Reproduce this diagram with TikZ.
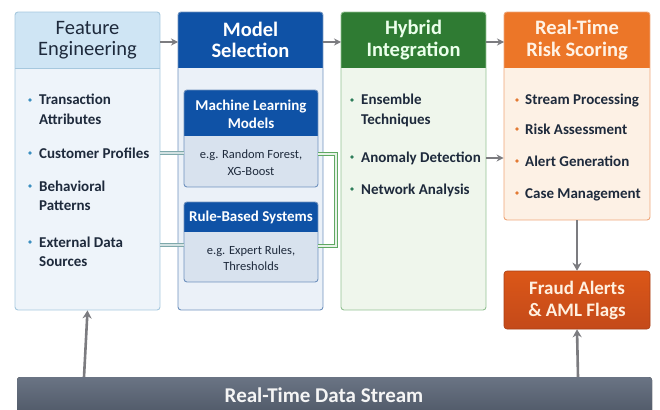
\documentclass[tikz,border=0pt]{standalone}
\usepackage{fontspec}
\setmainfont{Carlito}
\usetikzlibrary{arrows.meta}
\definecolor{feHead}{HTML}{CFE5F4}
\definecolor{feBody}{HTML}{EEF4FA}
\definecolor{feLine}{HTML}{A6C8DE}
\definecolor{msHead}{HTML}{0F52A6}
\definecolor{msBody}{HTML}{EBF1F8}
\definecolor{msLine}{HTML}{6F92BE}
\definecolor{mlBody}{HTML}{D8E2EE}
\definecolor{hiHead}{HTML}{2F7B33}
\definecolor{hiBody}{HTML}{EFF6EC}
\definecolor{hiLine}{HTML}{93C293}
\definecolor{rtHead}{HTML}{EC7628}
\definecolor{rtBody}{HTML}{FDF1E5}
\definecolor{rtLine}{HTML}{EFA678}
\definecolor{frFill}{HTML}{D5501C}
\definecolor{dsTop}{HTML}{6A7484}
\definecolor{dsBot}{HTML}{4C5564}
\definecolor{arrowGray}{HTML}{7C7C80}
\definecolor{darkText}{HTML}{1E2A3C}
\definecolor{feBullet}{HTML}{3C8FC0}
\definecolor{hiBullet}{HTML}{2E7D5A}
\definecolor{rtBullet}{HTML}{E37A34}
\definecolor{tealLink}{HTML}{7FA9AB}
\definecolor{greenLink}{HTML}{5FA862}
\newcommand{\twol}[2]{\begin{tabular}[t]{@{}l@{}}#1\\#2\end{tabular}}
\tikzset{
  panel/.style={draw=#1, line width=0.9pt, rounded corners=3pt},
  hdrtext/.style={font=\fontsize{20.5}{21.5}\selectfont\bfseries, align=center},
  item/.style={font=\fontsize{15}{19}\selectfont\bfseries, text=darkText, anchor=base west, align=left, inner sep=0pt},
  subhdr/.style={font=\fontsize{15}{18}\selectfont\bfseries, text=white, align=center},
  subbody/.style={font=\fontsize{12.5}{16.5}\selectfont, text=darkText, align=center},
  dot/.style={circle, fill=#1, inner sep=0pt, minimum size=3.6pt},
  flow/.style={draw=arrowGray, line width=2pt, -{Stealth[length=7pt,width=7pt]}},
  bigflow/.style={draw=arrowGray, line width=2.6pt, -{Stealth[length=8pt,width=9pt]}},
  tlink/.style={draw=tealLink, line width=1pt, double=tealLink!35, double distance=1.6pt},
  glink/.style={draw=greenLink, line width=0.9pt, double=greenLink!15, double distance=1.4pt},
}
\begin{document}
\begin{tikzpicture}[x=1pt,y=-1pt]
\useasboundingbox (0,0) rectangle (660,409);
\fill[white] (0,0) rectangle (660,409);

% ---------- Feature Engineering ----------
\begin{scope}
\clip[rounded corners=3pt] (15,12) rectangle (160,310);
\fill[feBody] (15,12) rectangle (160,310);
\fill[feHead] (15,12) rectangle (160,68);
\end{scope}
\draw[feLine, line width=0.9pt] (15,68) -- (160,68);
\node[panel=feLine, minimum width=145pt, minimum height=298pt] (fe) at (87.5,161) {};
\node[hdrtext, font=\fontsize{20.5}{21.5}\selectfont, text=darkText] (feh) at (87.5,40) {Feature\\Engineering};
\node[dot=feBullet] (feb1) at (30,100) {};
\node[item] (fe1) at (39,105) {\twol{Transaction}{Attributes}};
\node[dot=feBullet] (feb2) at (30,153) {};
\node[item] (fe2) at (39,158) {Customer Profiles};
\node[dot=feBullet] (feb3) at (30,186) {};
\node[item] (fe3) at (39,191) {\twol{Behavioral}{Patterns}};
\node[dot=feBullet] (feb4) at (30,242) {};
\node[item] (fe4) at (39,247) {\twol{External Data}{Sources}};

% ---------- Model Selection ----------
\begin{scope}
\clip[rounded corners=3pt] (178,12) rectangle (323,310);
\fill[msBody] (178,12) rectangle (323,310);
\fill[msHead] (178,12) rectangle (323,68);
\end{scope}
\node[panel=msLine, minimum width=145pt, minimum height=298pt] (ms) at (250.5,161) {};
\node[hdrtext, text=white] (msh) at (250.5,40) {Model\\Selection};

% ML models inner box
\begin{scope}
\clip[rounded corners=3pt] (184,90) rectangle (318,187);
\fill[mlBody] (184,90) rectangle (318,187);
\fill[msHead] (184,90) rectangle (318,136);
\end{scope}
\node[panel=msLine, minimum width=134pt, minimum height=97pt] (ml) at (251,138.5) {};
\node[subhdr] (mlh) at (251,114) {Machine Learning\\Models};
\node[subbody] (mlb) at (251,162.5) {e.g. Random Forest,\\XG-Boost};

% Rule-based inner box
\begin{scope}
\clip[rounded corners=3pt] (184,202) rectangle (318,282);
\fill[mlBody] (184,202) rectangle (318,282);
\fill[msHead] (184,202) rectangle (318,232);
\end{scope}
\node[panel=msLine, minimum width=134pt, minimum height=80pt] (rb) at (251,242) {};
\node[subhdr] (rbh) at (251,217) {Rule-Based Systems};
\node[subbody] (rbb) at (251,258) {e.g. Expert Rules,\\Thresholds};

% ---------- Hybrid Integration ----------
\begin{scope}
\clip[rounded corners=3pt] (341,12) rectangle (486,310);
\fill[hiBody] (341,12) rectangle (486,310);
\fill[hiHead] (341,12) rectangle (486,68);
\end{scope}
\node[panel=hiLine, minimum width=145pt, minimum height=298pt] (hi) at (413.5,161) {};
\node[hdrtext, text=green!8!white] (hih) at (413.5,40) {Hybrid\\Integration};
\node[dot=hiBullet] (hib1) at (352,100) {};
\node[item] (hi1) at (361,105) {\twol{Ensemble}{Techniques}};
\node[dot=hiBullet] (hib2) at (352,157) {};
\node[item] (hi2) at (361,162) {Anomaly Detection};
\node[dot=hiBullet] (hib3) at (352,189) {};
\node[item] (hi3) at (361,194) {Network Analysis};

% ---------- Real-Time Risk Scoring ----------
\begin{scope}
\clip[rounded corners=3pt] (504,12) rectangle (650,220);
\fill[rtBody] (504,12) rectangle (650,220);
\fill[rtHead] (504,12) rectangle (650,68);
\end{scope}
\node[panel=rtLine, minimum width=146pt, minimum height=208pt] (rt) at (577,116) {};
\node[hdrtext, text=orange!10!white] (rth) at (577,40) {Real-Time\\Risk Scoring};
\node[dot=rtBullet] (rtb1) at (517,100) {};
\node[item] (rt1) at (525,105) {Stream Processing};
\node[dot=rtBullet] (rtb2) at (517,129) {};
\node[item] (rt2) at (525,134) {Risk Assessment};
\node[dot=rtBullet] (rtb3) at (517,161) {};
\node[item] (rt3) at (525,166) {Alert Generation};
\node[dot=rtBullet] (rtb4) at (517,193) {};
\node[item] (rt4) at (525,198) {Case Management};

% ---------- Fraud Alerts ----------
\node[draw=frFill!80!black, line width=0.6pt, rounded corners=3pt, top color=frFill!85!orange, bottom color=frFill!92!black,
      minimum width=146pt, minimum height=58pt, text=orange!12!white,
      font=\fontsize{19}{22}\selectfont\bfseries, align=center] (fr) at (577,300) {Fraud Alerts\\\& AML Flags};

% ---------- Data Stream ----------
\fill[top color=dsTop, bottom color=dsBot, rounded corners=3pt] (17,377) rectangle (652,420);
\node[font=\fontsize{21}{24}\selectfont\bfseries, text=white!92!gray, inner sep=0pt] (ds) at (324,395) {Real-Time Data Stream};
\coordinate (dsA) at (84,377);
\coordinate (dsB) at (578,377);

% ---------- Arrows ----------
\draw[flow] (160,42) -- (178,42);
\draw[flow] (323,42) -- (341,42);
\draw[flow] (486,42) -- (504,42);
\coordinate (adEnd) at (486,158);
\draw[flow] (adEnd) -- (rt.west |- adEnd);
\draw[bigflow] (rt.south) -- (fr.north);
\draw[bigflow] (dsA) -- (fe.south);
\draw[bigflow] (dsB) -- (fr.south);

% ---------- Links ----------
\draw[tlink] (fe.east |- 0,153) -- (ml.west |- 0,153);
\draw[tlink] (fe.east |- 0,245) -- (rb.west |- 0,245);
\coordinate (brTop) at (336,154);
\coordinate (brBot) at (336,246);
\draw[glink] (ml.east |- brTop) -- (brTop) -- (brBot) -- (rb.east |- brBot);
\end{tikzpicture}
\end{document}
